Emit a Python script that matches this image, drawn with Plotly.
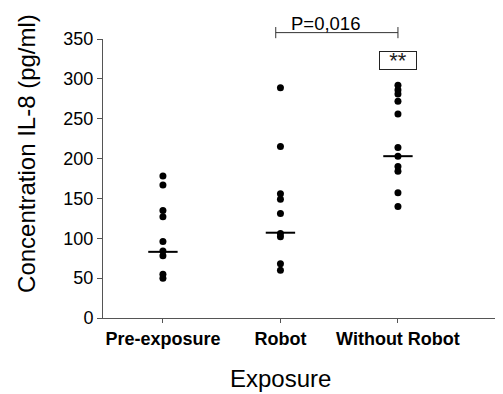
import plotly.graph_objects as go

categories = ["Pre-exposure", "Robot", "Without Robot"]
pre_exposure = [178, 167, 135, 127, 96, 84, 78, 55, 50]
robot = [289, 215, 156, 149, 131, 106, 102, 68, 60]
without_robot = [292, 286, 281, 272, 256, 214, 203, 190, 184, 157, 140]
medians = [83, 107, 203]
y_ticks = [0, 50, 100, 150, 200, 250, 300, 350]
p_label = "P=0,016"
sig_label = "**"

FONT = "Arial, Liberation Sans, sans-serif"
Y_MAX = 350

def ypaper(v):
    return v / Y_MAX

fig = go.Figure()
for i, vals in enumerate([pre_exposure, robot, without_robot]):
    fig.add_trace(go.Scatter(
        x=[i] * len(vals), y=vals, mode="markers",
        marker=dict(color="black", size=7, line=dict(width=0)),
        showlegend=False, cliponaxis=False))

# median lines
for i, m in enumerate(medians):
    fig.add_shape(type="line", xref="x", yref="y",
                  x0=i - 0.125, x1=i + 0.125, y0=m, y1=m,
                  line=dict(color="black", width=2))

# significance bracket between Robot and Without Robot
yb = ypaper(358)
fig.add_shape(type="line", xref="x", yref="paper", x0=0.96, x1=2.0, y0=yb, y1=yb,
              line=dict(color="#333333", width=1))
for xx in (0.96, 2.0):
    fig.add_shape(type="line", xref="x", yref="paper", x0=xx, x1=xx,
                  y0=ypaper(351), y1=ypaper(365), line=dict(color="#333333", width=1))

fig.add_annotation(x=1.385, y=ypaper(370), xref="x", yref="paper", text=p_label,
                   xanchor="center", yanchor="middle",
                   showarrow=False, font=dict(family=FONT, size=18.5, color="black"))
fig.add_annotation(x=2.0, y=323, xref="x", yref="y", text=sig_label,
                   xanchor="center", yanchor="middle",
                   showarrow=False, font=dict(family=FONT, size=22, color="#222222"),
                   bordercolor="#222222", borderwidth=1, borderpad=0,
                   width=36, height=17, bgcolor="white", valign="middle")

# axis titles
fig.add_annotation(x=1.0, y=-0.2186, xref="x", yref="paper", text="Exposure",
                   xanchor="center", yanchor="middle",
                   showarrow=False, font=dict(family=FONT, size=24, color="black"))
fig.add_annotation(x=-0.19, y=0.588, xref="paper", yref="paper",
                   text="Concentration IL-8 (pg/ml)", textangle=-90,
                   xanchor="center", yanchor="middle",
                   showarrow=False, font=dict(family=FONT, size=24, color="black"))

fig.update_layout(
    width=495, height=386,
    margin=dict(l=95, r=0, t=31, b=76),
    plot_bgcolor="white", paper_bgcolor="white",
    font=dict(family=FONT, color="black"),
)
fig.update_xaxes(
    range=[-0.51, 2.894], tickmode="array", tickvals=[0, 1, 2], ticktext=categories,
    showgrid=False, zeroline=False, showline=True, linecolor="#555555", linewidth=1,
    ticks="outside", ticklen=4, tickcolor="#555555",
    tickfont=dict(family=FONT, size=18, color="black", weight="bold"),
)
fig.update_yaxes(
    range=[0, Y_MAX], tickvals=y_ticks,
    showgrid=False, zeroline=False, showline=True, linecolor="#555555", linewidth=1,
    ticks="outside", ticklen=5, tickcolor="#555555",
    tickfont=dict(family=FONT, size=18, color="black"),
)
fig.write_html("out.html")
